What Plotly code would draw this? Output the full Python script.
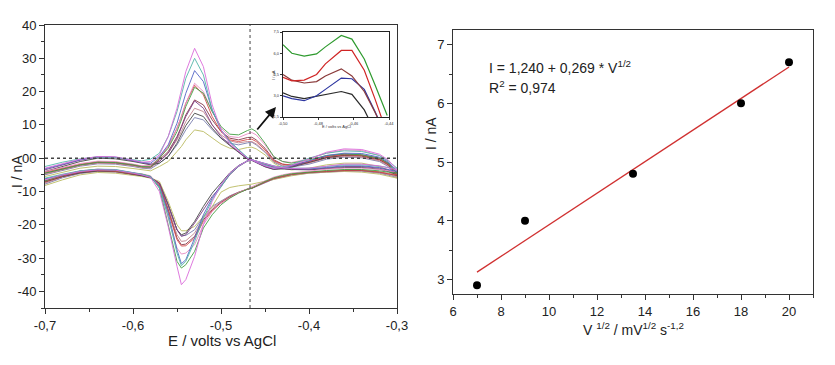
import plotly.graph_objects as go

# ---------------- Left panel: cyclic voltammograms ----------------
E_GRID = [-0.70, -0.68, -0.66, -0.64, -0.62, -0.60, -0.59, -0.58, -0.57, -0.56, -0.55,
          -0.545, -0.54, -0.53, -0.52, -0.51, -0.50, -0.49, -0.48, -0.47, -0.465, -0.46,
          -0.45, -0.44, -0.43, -0.42, -0.40, -0.38, -0.36, -0.34, -0.32, -0.31, -0.30]

up_magenta = [-3.0, -1.6, -0.3, 0.5, 0.4, -0.6, -1.2, -1.0, 1.0, 6.5, 15.0, 20.5, 26.0, 33.0, 27.5, 16.0, 8.5, 4.5, 2.2, 0.0, -0.5, -1.2, -2.3, -3.0, -2.8, -2.2, -0.3, 1.8, 2.8, 2.6, 1.2, -0.5, -3.5]
dn_magenta = [-6.5, -5.0, -4.0, -3.5, -3.6, -4.5, -5.0, -5.8, -10.0, -20.5, -32.5, -38.0, -36.5, -29.5, -20.0, -13.0, -8.0, -4.5, -2.3, -0.8, -0.5, -0.8, -1.6, -2.4, -2.9, -3.1, -3.0, -2.4, -1.8, -1.8, -2.3, -2.9, -3.5]

up_teal = [-2.5, -1.2, -0.2, 0.4, 0.2, -0.5, -0.8, -0.3, 1.5, 6.5, 14.0, 19.0, 24.0, 30.0, 25.0, 14.5, 8.5, 5.0, 2.5, 0.2, -0.4, -1.0, -2.0, -2.8, -2.6, -2.0, 0.0, 1.5, 2.2, 2.0, 0.8, -0.8, -3.0]
dn_teal = [-6.0, -4.8, -3.8, -3.3, -3.4, -4.3, -4.8, -5.5, -8.8, -17.5, -28.5, -32.3, -31.0, -25.0, -18.0, -12.5, -8.5, -4.8, -2.4, -0.8, -0.5, -0.7, -1.5, -2.3, -2.8, -3.0, -3.0, -2.5, -2.0, -2.0, -2.4, -2.8, -3.0]

up_blue = [-3.2, -1.8, -0.5, 0.4, 0.3, -0.7, -1.3, -1.5, 0.5, 4.0, 10.5, 15.0, 19.5, 26.3, 23.0, 14.5, 8.5, 5.0, 2.5, 0.0, -0.5, -1.2, -2.2, -3.0, -2.8, -2.3, -0.8, 0.8, 1.5, 1.4, 0.3, -1.2, -4.0]
dn_blue = [-6.2, -5.0, -3.9, -3.4, -3.5, -4.4, -4.9, -5.6, -8.5, -16.5, -27.5, -31.7, -30.5, -24.0, -17.0, -12.0, -8.0, -4.6, -2.3, -0.8, -0.5, -0.7, -1.6, -2.4, -2.9, -3.1, -3.2, -2.8, -2.3, -2.3, -2.8, -3.3, -4.0]

up_purple = [-3.5, -2.0, -0.6, 0.3, 0.2, -0.8, -1.4, -1.8, -1.0, 1.5, 6.0, 9.0, 12.5, 17.2, 15.0, 10.0, 6.5, 4.0, 2.0, -0.2, -0.6, -1.3, -2.5, -3.3, -3.0, -2.5, -1.0, 0.5, 1.2, 1.0, 0.0, -1.5, -4.5]
dn_purple = [-6.8, -5.3, -4.2, -3.6, -3.7, -4.6, -5.1, -5.8, -7.5, -14.0, -21.5, -23.5, -23.0, -19.5, -15.5, -11.5, -8.5, -5.0, -2.5, -0.9, -0.5, -0.8, -1.7, -2.6, -3.1, -3.3, -3.4, -3.0, -2.5, -2.5, -3.0, -3.6, -4.5]

up_black = [-4.0, -2.5, -1.0, 0.0, -0.2, -1.0, -1.6, -2.0, -1.5, 0.5, 4.5, 7.0, 9.8, 13.5, 12.5, 9.0, 6.0, 3.8, 1.8, -0.3, -0.7, -1.4, -2.6, -3.4, -3.2, -2.7, -1.3, 0.2, 0.9, 0.8, -0.3, -1.8, -5.0]
dn_black = [-7.0, -5.5, -4.4, -3.8, -3.9, -4.8, -5.3, -5.9, -7.5, -14.0, -21.5, -23.0, -22.5, -19.0, -14.5, -10.5, -7.5, -4.4, -2.2, -0.8, -0.5, -0.8, -1.8, -2.7, -3.2, -3.4, -3.5, -3.2, -2.8, -2.8, -3.3, -4.0, -5.0]

up_green = [-4.5, -3.2, -2.0, -1.2, -1.3, -2.0, -2.5, -2.6, 0.0, 3.0, 8.0, 11.5, 15.5, 21.3, 19.5, 14.0, 9.5, 7.2, 7.0, 8.3, 8.8, 8.0, 4.5, 0.5, -1.0, -1.5, -0.5, 0.8, 1.3, 1.0, 0.0, -1.5, -4.5]
dn_green = [-6.8, -5.1, -3.9, -3.4, -3.7, -4.5, -4.8, -5.5, -9.0, -20.0, -31.0, -33.0, -32.0, -28.0, -21.0, -17.0, -14.0, -12.0, -10.5, -9.3, -9.0, -8.3, -7.0, -5.9, -5.2, -4.7, -4.1, -3.7, -3.4, -3.4, -3.8, -4.2, -4.5]

up_pink = [-4.0, -2.8, -1.6, -0.9, -1.0, -1.8, -2.3, -2.3, 0.3, 3.5, 9.0, 12.5, 16.5, 22.5, 20.0, 14.0, 9.0, 6.5, 6.2, 7.3, 7.7, 7.0, 4.0, 0.3, -1.0, -1.3, -0.2, 1.5, 2.5, 2.3, 0.8, -1.0, -4.0]
dn_pink = [-6.5, -5.0, -3.8, -3.3, -3.6, -4.4, -4.7, -5.3, -8.5, -18.0, -27.0, -28.8, -28.5, -26.0, -20.0, -16.0, -13.5, -11.8, -10.3, -9.2, -8.8, -8.1, -6.8, -5.7, -5.0, -4.5, -3.8, -3.3, -3.0, -3.0, -3.4, -3.8, -4.0]

up_red = [-4.2, -3.0, -1.8, -1.1, -1.2, -1.9, -2.4, -2.4, 0.0, 3.5, 9.0, 12.5, 16.5, 21.9, 19.0, 12.5, 8.0, 5.5, 5.0, 5.6, 5.7, 5.0, 2.5, -0.8, -1.8, -2.0, -1.0, 0.5, 1.0, 0.8, -0.3, -1.8, -5.0]
dn_red = [-7.0, -5.3, -4.1, -3.6, -3.9, -4.7, -5.0, -5.6, -8.0, -16.0, -24.5, -26.4, -26.3, -24.0, -19.0, -15.8, -13.5, -11.8, -10.4, -9.3, -9.0, -8.4, -7.1, -6.0, -5.3, -4.8, -4.2, -3.9, -3.6, -3.6, -4.1, -4.6, -5.0]

up_maroon = [-4.5, -3.2, -2.0, -1.3, -1.4, -2.1, -2.6, -2.7, -0.5, 2.0, 6.5, 9.5, 13.0, 17.5, 16.0, 11.5, 8.0, 6.0, 5.5, 6.2, 6.3, 5.5, 3.0, -0.5, -1.8, -2.2, -1.2, 0.2, 0.8, 0.6, -0.5, -2.0, -5.2]
dn_maroon = [-7.2, -5.5, -4.3, -3.8, -4.0, -4.8, -5.1, -5.7, -8.0, -15.5, -24.0, -26.0, -25.8, -23.5, -18.5, -15.5, -13.3, -11.6, -10.3, -9.3, -9.0, -8.5, -7.2, -6.1, -5.4, -4.9, -4.3, -4.0, -3.7, -3.7, -4.2, -4.7, -5.2]

up_rose = [-4.8, -3.4, -2.2, -1.5, -1.6, -2.3, -2.8, -2.9, -1.0, 1.5, 5.5, 8.0, 11.0, 15.0, 14.0, 10.0, 7.0, 5.2, 4.6, 5.0, 5.0, 4.3, 2.0, -1.0, -2.2, -2.5, -1.5, 0.0, 0.5, 0.3, -0.8, -2.3, -5.5]
dn_rose = [-7.5, -5.7, -4.5, -3.9, -4.1, -4.9, -5.2, -5.8, -8.0, -15.0, -23.0, -25.0, -24.8, -22.5, -18.0, -15.0, -13.0, -11.4, -10.2, -9.3, -9.0, -8.5, -7.3, -6.2, -5.5, -5.0, -4.4, -4.1, -3.8, -3.8, -4.4, -4.9, -5.5]

up_slate = [-5.0, -3.6, -2.4, -1.7, -1.8, -2.5, -3.0, -3.2, -1.5, 0.5, 4.0, 6.2, 8.5, 12.2, 11.5, 8.5, 6.0, 4.5, 4.0, 4.6, 4.8, 4.0, 1.8, -1.2, -2.4, -2.7, -1.8, -0.3, 0.3, 0.1, -1.0, -2.5, -5.8]
dn_slate = [-7.8, -5.9, -4.6, -4.0, -4.2, -5.0, -5.3, -5.9, -7.5, -14.0, -21.5, -23.3, -23.2, -21.5, -17.5, -14.5, -12.8, -11.3, -10.2, -9.4, -9.1, -8.6, -7.4, -6.3, -5.6, -5.1, -4.5, -4.2, -3.9, -3.9, -4.5, -5.1, -5.8]

up_olive = [-5.5, -4.2, -3.0, -2.4, -2.5, -3.1, -3.5, -3.8, -2.5, -1.0, 2.0, 3.5, 5.5, 8.5, 8.0, 6.0, 4.2, 3.0, 2.6, 3.2, 3.3, 2.8, 1.0, -1.5, -3.0, -3.5, -3.0, -2.0, -1.5, -1.5, -2.5, -3.5, -6.0]
dn_olive = [-8.2, -6.5, -5.0, -4.3, -4.5, -5.2, -5.5, -6.0, -7.0, -13.0, -20.0, -21.8, -21.8, -20.5, -17.5, -14.5, -10.2, -8.8, -8.3, -7.9, -7.8, -7.5, -6.8, -6.3, -5.8, -5.3, -4.5, -4.2, -4.0, -4.2, -4.8, -5.4, -6.0]

E_MARK = -0.467  # vertical marker line

LEFT_XTICKS = [-0.7, -0.6, -0.5, -0.4, -0.3]
LEFT_XTEXT = ["-0,7", "-0,6", "-0,5", "-0,4", "-0,3"]
LEFT_YTICKS = [-40, -30, -20, -10, 0, 10, 20, 30, 40]
LEFT_YTEXT = ["-40", "-30", "-20", "-10", "00", "10", "20", "30", "40"]

# ---------------- Inset ----------------
E_INSET = [-0.500, -0.495, -0.488, -0.481, -0.476, -0.467, -0.461, -0.454, -0.448, -0.441]
in_green = [6.6, 6.0, 5.8, 5.95, 6.45, 7.25, 7.0, 5.6, 3.8, 1.6]
in_red = [4.3, 4.05, 4.1, 4.5, 5.25, 6.2, 6.2, 4.8, 2.8, 0.3]
in_maroon = [4.5, 4.1, 3.9, 4.0, 4.4, 4.9, 4.4, 3.3, 1.85, 0.0]
in_blue = [3.0, 2.8, 2.65, 3.0, 3.45, 4.25, 4.2, 3.45, 1.9, 0.0]
in_black = [3.2, 2.95, 2.8, 2.95, 3.1, 3.3, 3.1, 2.0, 0.5, 0.0]
INSET_XTICKS = [-0.50, -0.48, -0.46, -0.44]
INSET_XTEXT = ["-0,50", "-0,48", "-0,46", "-0,44"]
INSET_YTICKS = [1.5, 3.0, 4.5, 6.0, 7.5]
INSET_YTEXT = ["1,5", "3,0", "4,5", "6,0", "7,5"]

# ---------------- Right panel: Randles-Sevcik plot ----------------
V_SQRT = [7, 9, 13.5, 18, 20]
I_PEAK = [2.9, 4.0, 4.8, 6.0, 6.7]
FIT_X = [7, 20]
FIT_INTERCEPT = 1.240
FIT_SLOPE = 0.269

FONT = "Liberation Sans, Arial, sans-serif"
OFF = 8                     # page body margin of the browser
W, H = 835 - 2 * OFF, 365 - 2 * OFF
ML, MR, MT, MB = 37, 14, 17, 49

fig = go.Figure()

curves = [
    ("#7b7fb0", up_slate, dn_slate),
    ("#bcbc62", up_olive, dn_olive),
    ("#c48690", up_rose, dn_rose),
    ("#8a3a4a", up_maroon, dn_maroon),
    ("#474747", up_black, dn_black),
    ("#7d3f86", up_purple, dn_purple),
    ("#d94c4c", up_red, dn_red),
    ("#e98cc4", up_pink, dn_pink),
    ("#45a045", up_green, dn_green),
    ("#5566c8", up_blue, dn_blue),
    ("#55b8aa", up_teal, dn_teal),
    ("#dc6ddc", up_magenta, dn_magenta),
]
for color, up, dn in curves:
    fig.add_trace(go.Scatter(
        x=E_GRID + E_GRID[::-1], y=up + dn[::-1], mode="lines",
        line=dict(color=color, width=1), opacity=0.9,
        xaxis="x", yaxis="y", hoverinfo="skip"))

inset_curves = [("#2a2a2a", in_black), ("#2c35a0", in_blue), ("#8a3a3a", in_maroon),
                ("#d02525", in_red), ("#2e9a2e", in_green)]
for color, vals in inset_curves:
    fig.add_trace(go.Scatter(x=E_INSET, y=vals, mode="lines",
                             line=dict(color=color, width=1.2),
                             xaxis="x3", yaxis="y3", hoverinfo="skip"))

fit_y = [FIT_INTERCEPT + FIT_SLOPE * v for v in FIT_X]
fig.add_trace(go.Scatter(x=FIT_X, y=fit_y, mode="lines",
                         line=dict(color="#d03030", width=1.3),
                         xaxis="x2", yaxis="y2"))
fig.add_trace(go.Scatter(x=V_SQRT, y=I_PEAK, mode="markers",
                         marker=dict(color="black", size=8),
                         xaxis="x2", yaxis="y2"))

def px(x):
    """page pixel x -> paper coordinate"""
    return (x - OFF - ML) / (W - ML - MR)

def py(y):
    """page pixel y -> paper coordinate"""
    return (H - MB - (y - OFF)) / (H - MT - MB)

axis_common = dict(showline=True, mirror=True, linecolor="#333", linewidth=1,
                   ticks="outside", ticklen=5, tickcolor="#333", showgrid=False,
                   zeroline=False, automargin=False,
                   tickfont=dict(family=FONT, size=13, color="#222"))
inset_common = dict(showline=True, mirror=True, linecolor="#222", linewidth=1.2,
                    ticks="outside", ticklen=2, tickcolor="#333", showgrid=False,
                    zeroline=False, automargin=False,
                    tickfont=dict(family=FONT, size=4, color="#333"))

fig.update_layout(
    width=W, height=H, margin=dict(l=ML, r=MR, t=MT, b=MB, autoexpand=False),
    paper_bgcolor="white", plot_bgcolor="white", showlegend=False,
    font=dict(family=FONT, color="#222"),
    xaxis=dict(domain=[px(45), px(397)], range=[-0.7, -0.3], anchor="y",
               tickmode="array", tickvals=LEFT_XTICKS, ticktext=LEFT_XTEXT,
               minor=dict(ticks="outside", ticklen=3, tick0=-0.7, dtick=0.05, tickcolor="#333"),
               **axis_common),
    yaxis=dict(domain=[py(308), py(25)], range=[-45, 40], anchor="x",
               tickmode="array", tickvals=LEFT_YTICKS, ticktext=LEFT_YTEXT,
               minor=dict(ticks="outside", ticklen=3, tick0=-45, dtick=5, tickcolor="#333"),
               **axis_common),
    xaxis2=dict(domain=[px(453), px(813)], range=[6, 21], anchor="y2",
                tickmode="array", tickvals=[6, 8, 10, 12, 14, 16, 18, 20],
                minor=dict(ticks="outside", ticklen=3, tick0=6, dtick=1, tickcolor="#333"),
                **axis_common),
    yaxis2=dict(domain=[py(294), py(30)], range=[2.75, 7.25], anchor="x2",
                tickmode="array", tickvals=[3, 4, 5, 6, 7],
                minor=dict(ticks="outside", ticklen=3, tick0=3, dtick=0.5, tickcolor="#333"),
                **axis_common),
    xaxis3=dict(domain=[px(283), px(389)], range=[-0.50, -0.44], anchor="y3",
                tickmode="array", tickvals=INSET_XTICKS, ticktext=INSET_XTEXT,
                **inset_common),
    yaxis3=dict(domain=[py(117), py(32)], range=[1.5, 7.5], anchor="x3",
                tickmode="array", tickvals=INSET_YTICKS, ticktext=INSET_YTEXT,
                **inset_common),
)

# reference lines (zero current and marked potential)
fig.add_shape(type="line", xref="x domain", yref="y", x0=0, x1=1, y0=0, y1=0,
              line=dict(color="#444", width=1.5, dash="dot"))
fig.add_shape(type="line", xref="x", yref="y domain", x0=E_MARK, x1=E_MARK, y0=0, y1=1,
              line=dict(color="#444", width=1, dash="dot"))

def label(text, x, y, size, angle=0, anchor="center", color="#222"):
    return dict(text=text, x=px(x), y=py(y), xref="paper", yref="paper",
                xanchor=anchor, yanchor="middle", textangle=angle, showarrow=False,
                font=dict(family=FONT, size=size, color=color))

ann = [
    label("I / nA", 17, 172, 14, angle=-90),
    label("E / volts vs AgCl", 222, 340, 15),
    label("I / nA", 431, 134, 14, angle=-90),
    label("V <sup>1/2</sup> / mV<sup>1/2</sup> s<sup>-1,2</sup>", 633, 329, 14),
    label("E / volts vs AgCl", 336, 126, 4, color="#333"),
    label("I / nA", 273, 75, 4, angle=-90, color="#333"),
    label("I = 1,240 + 0,269 * V<sup>1/2</sup>", 487, 67, 14, anchor="left"),
    label("R<sup>2</sup> = 0,974", 487, 87, 14, anchor="left"),
    dict(text="", x=px(276), y=py(107), xref="paper", yref="paper",
         ax=-20, ay=24, showarrow=True, arrowhead=2, arrowsize=1.2,
         arrowwidth=1.8, arrowcolor="#111"),
]
fig.update_layout(annotations=ann)

fig.write_html("out.html")
